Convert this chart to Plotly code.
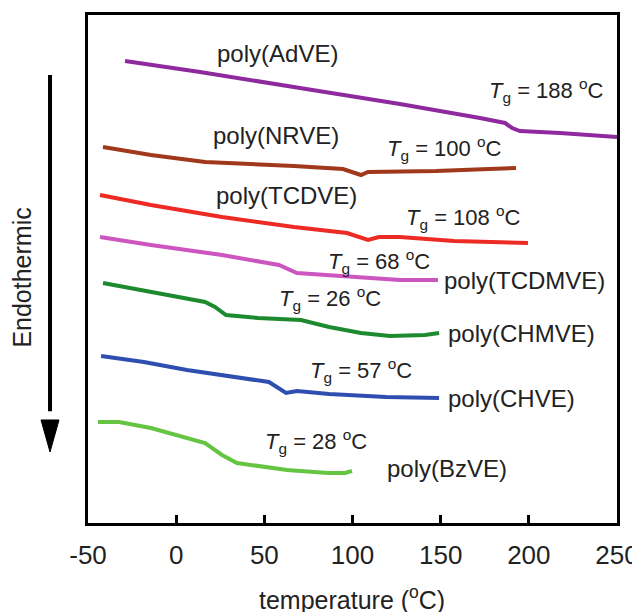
import plotly.graph_objects as go

# ---- data (temperature in °C, heat flow in arbitrary units) ----
adve_T = [-29.0, 13.5, 70.2, 126.9, 172.3, 186.5, 190.5, 195.0, 217.7, 240.4, 250.0]
adve_y = [462, 451, 435, 419, 405, 400, 395, 392, 390, 387, 386]

nrve_T = [-41.5, -14.3, 16.4, 46.4, 66.8, 94.6, 104.8, 108.8, 126.9, 147.4, 177.4, 192.7]
nrve_y = [376, 368, 361, 359, 357, 354, 348, 351, 351, 352, 354, 355]

tcdve_T = [-43.2, -14.3, 26.0, 66.8, 96.9, 108.8, 115.0, 126.9, 157.6, 199.5]
tcdve_y = [328, 318, 306, 296, 290, 283, 286, 286, 282, 280]

tcdmve_T = [-43.2, -14.3, 26.0, 58.3, 68.5, 86.7, 107.1, 126.9, 148.5]
tcdmve_y = [286, 278, 268, 258, 250, 248, 246, 243, 243]

chmve_T = [-41.5, -14.3, 16.4, 22.0, 28.3, 46.4, 70.8, 86.7, 104.8, 121.3, 141.1, 149.1]
chmve_y = [240, 231, 221, 216, 208, 205, 203, 196, 190, 187, 188, 190]

chve_T = [-42.6, -18.3, 6.1, 36.2, 52.6, 62.3, 68.5, 86.7, 119.0, 149.1]
chve_y = [167, 161, 153, 145, 141, 130, 132, 129, 126, 125]

bzve_T = [-44.3, -32.4, -14.3, 16.4, 26.0, 34.5, 62.9, 86.1, 95.7, 99.7]
bzve_y = [101, 101, 95, 80, 68, 60, 53, 50, 50, 52]

series = [
    ("poly(AdVE)", adve_T, adve_y, "#8E2A9E"),
    ("poly(NRVE)", nrve_T, nrve_y, "#A0381C"),
    ("poly(TCDVE)", tcdve_T, tcdve_y, "#EE2A24"),
    ("poly(TCDMVE)", tcdmve_T, tcdmve_y, "#CC55C0"),
    ("poly(CHMVE)", chmve_T, chmve_y, "#1E8A30"),
    ("poly(CHVE)", chve_T, chve_y, "#2E4FB0"),
    ("poly(BzVE)", bzve_T, bzve_y, "#66C443"),
]

# polymer name labels (data coords)
name_text = ["poly(AdVE)", "poly(NRVE)", "poly(TCDVE)", "poly(TCDMVE)",
             "poly(CHMVE)", "poly(CHVE)", "poly(BzVE)"]
name_x = [57.2, 56.6, 62.3, 197.8, 195.6, 189.9, 153.6]
name_y = [470, 388, 328, 243, 190, 125, 55]

# Tg labels (data coords)
tg_values = [188, 100, 108, 68, 26, 57, 28]
tg_x = [209.7, 152.0, 162.7, 115.0, 87.2, 104.8, 79.5]
tg_y = [433, 375, 306, 262, 225, 153, 82]

x_ticks = [-50, 0, 50, 100, 150, 200, 250]

FONT = "Liberation Sans, Arial, sans-serif"
TXT = "#222222"

fig = go.Figure()
for name, xs, ys, col in series:
    fig.add_trace(go.Scatter(x=xs, y=ys, mode="lines", name=name,
                             line=dict(color=col, width=4), showlegend=False))

for t, x, y in zip(name_text, name_x, name_y):
    fig.add_annotation(x=x, y=y, text=t, showarrow=False, xref="x", yref="y",
                       font=dict(family=FONT, size=24, color=TXT))

for v, x, y in zip(tg_values, tg_x, tg_y):
    fig.add_annotation(x=x, y=y, text=f"<i>T</i><sub>g</sub> = {v} <sup>o</sup>C",
                       showarrow=False, xref="x", yref="y",
                       font=dict(family=FONT, size=22, color=TXT))

# y-axis label and arrow
fig.add_annotation(x=-0.1248, y=0.483, xref="paper", yref="paper", text="Endothermic",
                   xanchor="center", yanchor="middle",
                   textangle=-90, showarrow=False, font=dict(family=FONT, size=25, color=TXT))
fig.add_shape(type="line", xref="paper", yref="paper", x0=-0.0718, x1=-0.0718, y0=0.882, y1=0.22,
              line=dict(color="black", width=4))
fig.add_shape(type="path", xref="paper", yref="paper",
              path="M -0.0888,0.2028 L -0.0548,0.2028 L -0.0718,0.1398 Z",
              fillcolor="black", line=dict(color="black", width=1))

# x-axis title
fig.add_annotation(x=0.499, y=-0.1476, xref="paper", yref="paper",
                   xanchor="center", yanchor="middle",
                   text="temperature (<sup>o</sup>C)", showarrow=False,
                   font=dict(family=FONT, size=25, color=TXT))

# page body has an 8px default margin, so the figure is 8px smaller and shifted
fig.update_layout(
    width=632, height=604,
    margin=dict(l=80, r=23, t=7, b=89, autoexpand=False),
    paper_bgcolor="white", plot_bgcolor="white",
    xaxis=dict(range=[-50, 250], tickvals=x_ticks, ticktext=[str(v) for v in x_ticks],
               ticks="inside", ticklen=8, tickwidth=3, tickcolor="black",
               showline=True, linewidth=3, linecolor="black", mirror=True,
               showgrid=False, zeroline=False, automargin=False,
               ticklabelstandoff=7,
               tickfont=dict(family=FONT, size=26, color=TXT)),
    yaxis=dict(range=[0, 508], showticklabels=False, ticks="",
               showline=True, linewidth=3, linecolor="black", mirror=True,
               showgrid=False, zeroline=False, automargin=False),
)

fig.write_html("out.html")
